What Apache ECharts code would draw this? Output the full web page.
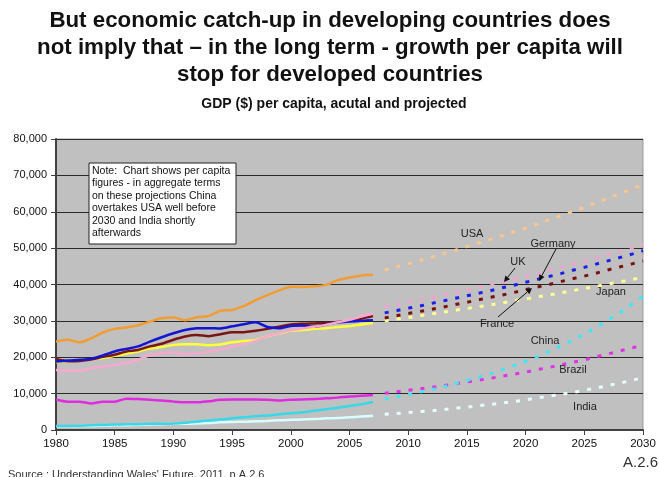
<!DOCTYPE html>
<html><head><meta charset="utf-8">
<script src="https://cdn.jsdelivr.net/npm/echarts@6/dist/echarts.min.js"></script>
<style>html,body{margin:0;padding:0;background:#fff}#c{width:659px;height:477px}</style>
</head><body><div id="c"></div>
<script>
const histYears = [1980,1981,1982,1983,1984,1985,1986,1987,1988,1989,1990,1991,1992,1993,1994,1995,1996,1997,1998,1999,2000,2001,2002,2003,2004,2005,2006,2007];
const projYears = [2008,2009,2010,2011,2012,2013,2014,2015,2016,2017,2018,2019,2020,2021,2022,2023,2024,2025,2026,2027,2028,2029,2030];

const usaHist = [24300,24800,24100,25200,26800,27800,28200,28800,29800,30700,30900,30200,31000,31300,32800,33000,34100,35700,37100,38300,39400,39300,39500,39900,41200,41900,42500,42700];
const ukHist = [16500,16300,16300,17000,17400,17900,18400,19300,20600,21100,21400,20900,21100,21600,22200,22900,23600,24500,25800,26600,27400,27900,28400,28900,29600,30300,31200,32100];
const germanyHist = [18800,19100,19300,19600,20500,21600,22300,23000,24300,25500,26600,27500,28000,28000,27900,28500,29100,29600,28300,28000,28600,28700,28400,29000,29600,29800,30000,30200];
const franceHist = [19500,18900,19000,19400,20100,20700,21600,22000,23000,23700,24800,25700,26100,25800,26300,26900,26900,27300,27800,28400,29000,29200,29300,29400,29700,30000,30600,31300];
const japanHist = [18700,18900,19200,19400,19800,20400,21000,21600,22400,22800,23400,23600,23600,23300,23500,24100,24500,24700,25800,26500,27300,27500,27800,28000,28300,28600,29000,29400];
const brazilHist = [8400,7800,7800,7300,7800,7800,8600,8500,8300,8100,7800,7600,7600,7900,8300,8400,8400,8400,8300,8100,8300,8400,8500,8700,8900,9200,9400,9600];
const chinaHist = [1100,1100,1200,1300,1400,1500,1600,1600,1700,1700,1800,2000,2300,2600,2900,3200,3500,3800,4000,4300,4600,4900,5300,5700,6100,6600,7100,7700];
const indiaHist = [1000,1000,1100,1100,1200,1300,1300,1400,1500,1600,1700,1700,1800,1900,2100,2200,2300,2400,2500,2700,2800,2900,3000,3200,3300,3500,3700,3900];

const usaProj = [44000,44900,45700,46600,47500,48500,49400,50400,51400,52400,53400,54500,55500,56600,57800,58900,60100,61200,62500,63700,64900,66200,67500];
const ukProj = [33800,34400,35100,35700,36400,37100,37800,38500,39200,40000,40700,41500,42300,43100,43900,44700,45600,46400,47300,48200,49100,50000,51000];
const germanyProj = [32200,32800,33500,34100,34800,35500,36200,36900,37600,38300,39100,39800,40600,41400,42200,43000,43900,44700,45600,46500,47400,48300,49300];
const franceProj = [30800,31400,32000,32600,33200,33800,34500,35100,35800,36500,37100,37800,38600,39300,40000,40800,41600,42300,43100,44000,44800,45600,46500];
const japanProj = [30000,30500,30900,31400,31900,32400,32900,33400,33900,34400,34900,35500,36000,36600,37100,37700,38300,38900,39500,40100,40700,41300,42000];
const chinaProj = [8500,9100,9700,10400,11100,11900,12700,13600,14500,15500,16600,17700,18900,20200,21600,23100,24700,26400,28200,30200,32200,34500,36800];
const brazilProj = [10100,10500,10900,11300,11700,12200,12700,13200,13700,14200,14800,15300,15900,16600,17200,17900,18600,19300,20100,20900,21700,22500,23400];
const indiaProj = [4300,4500,4800,5100,5300,5600,6000,6300,6700,7000,7400,7800,8300,8800,9300,9800,10300,10900,11500,12200,12900,13600,14400];

const xTicks = {min:1980, max:2030, step:5};
const yTicks = {min:0, max:80000, step:10000};

const countries = [
  {name:'USA', hist:usaHist, proj:usaProj, c1:'#F39C33', c2:'#F8C68E'},
  {name:'Japan', hist:japanHist, proj:japanProj, c1:'#FFFF3C', c2:'#FFFF96'},
  {name:'France', hist:franceHist, proj:franceProj, c1:'#7A1515', c2:'#7A1010'},
  {name:'Germany', hist:germanyHist, proj:germanyProj, c1:'#1414D4', c2:'#1E1EE6'},
  {name:'UK', hist:ukHist, proj:ukProj, c1:'#F7A8CC', c2:'#F5A0D2'},
  {name:'Brazil', hist:brazilHist, proj:brazilProj, c1:'#E02BE0', c2:'#E030E8'},
  {name:'India', hist:indiaHist, proj:indiaProj, c1:'#D8FFFF', c2:'#E6FFFF'},
  {name:'China', hist:chinaHist, proj:chinaProj, c1:'#38D8E8', c2:'#40E6F4'}
];

const series = [];
countries.forEach(c => {
  series.push({name:c.name, type:'line', showSymbol:false, smooth:0.25,
    data: histYears.map((y,i)=>[y,c.hist[i]]),
    lineStyle:{color:c.c1, width:2.5}, itemStyle:{color:c.c1}});
  series.push({name:c.name+' proj', type:'line', showSymbol:false,
    data: projYears.map((y,i)=>[y,c.proj[i]]),
    lineStyle:{color:c.c2, width:3, type:[4,8]}, itemStyle:{color:c.c2}});
});

const font = '"Liberation Sans", Arial, sans-serif';
function lbl(text,x,y){return {type:'text', x:x, y:y, style:{text:text, fill:'#222', font:'11px '+font, align:'center', verticalAlign:'middle'}, silent:true, z:10};}
function arrow(x1,y1,x2,y2){
  const a = Math.atan2(y2-y1,x2-x1), L=6, W=3;
  const bx = x2 - L*Math.cos(a), by = y2 - L*Math.sin(a);
  const px = -Math.sin(a)*W, py = Math.cos(a)*W;
  return [
    {type:'line', shape:{x1:x1,y1:y1,x2:bx,y2:by}, style:{stroke:'#111', lineWidth:1}, silent:true, z:10},
    {type:'polygon', shape:{points:[[x2,y2],[bx+px,by+py],[bx-px,by-py]]}, style:{fill:'#111'}, silent:true, z:10}
  ];
}

const graphics = [
  {type:'text', x:330, y:7, style:{text:'But economic catch-up in developing countries does\nnot imply that – in the long term - growth per capita will\nstop for developed countries', fill:'#111', font:'bold 22.3px '+font, align:'center', lineHeight:27}},
  {type:'text', x:334, y:104, style:{text:'GDP ($) per capita, acutal and projected', fill:'#111', font:'bold 14px '+font, align:'center', verticalAlign:'middle'}},
  {type:'rect', shape:{x:89,y:163,width:147,height:81}, style:{fill:'#fff', stroke:'#222', lineWidth:1}, z:20},
  {type:'text', x:92, y:165, z:21, style:{text:'Note:  Chart shows per capita\nfigures - in aggregate terms\non these projections China\novertakes USA well before\n2030 and India shortly\nafterwards', fill:'#111', font:'10.5px '+font, lineHeight:12.4}},
  lbl('USA',472,234), lbl('Germany',553,244), lbl('UK',518,262), lbl('Japan',611,292),
  lbl('France',497,324), lbl('China',545,341), lbl('Brazil',573,370), lbl('India',585,407),
  ...arrow(515,268,504,282), ...arrow(556,249,539,281), ...arrow(498,317,532,288),
  {type:'text', x:8, y:469, style:{text:"Source : Understanding Wales' Future, 2011, p A.2.6", fill:'#333', font:'11px '+font}},
  {type:'text', x:658, y:455, style:{text:'A.2.6', fill:'#333', font:'15px '+font, align:'right'}}
];

const chart = echarts.init(document.getElementById('c'), null, {renderer:'canvas'});
chart.setOption({
  animation:false,
  backgroundColor:'#fff',
  grid:{left:56, right:16, top:139, bottom:47, show:true, backgroundColor:'#C0C0C0', borderColor:'#9a9a9a', borderWidth:1},
  xAxis:{type:'value', min:xTicks.min, max:xTicks.max, interval:xTicks.step,
    axisLine:{lineStyle:{color:'#404040', width:2}},
    axisTick:{show:true, length:5, lineStyle:{color:'#404040'}},
    splitLine:{show:false},
    axisLabel:{color:'#111', fontSize:11.5, fontFamily:'Liberation Sans', margin:8, formatter:v=>String(v)}},
  yAxis:{type:'value', min:yTicks.min, max:yTicks.max, interval:yTicks.step,
    axisLine:{show:true, lineStyle:{color:'#404040', width:2}},
    axisTick:{show:true, length:5, lineStyle:{color:'#404040'}},
    splitLine:{show:true, lineStyle:{color:'#2a2a2a', width:1.2}},
    axisLabel:{color:'#111', fontSize:11, fontFamily:'Liberation Sans', margin:9, formatter:v=>v.toLocaleString('en-US')}},
  series: series,
  graphic: graphics
});
</script></body></html>
